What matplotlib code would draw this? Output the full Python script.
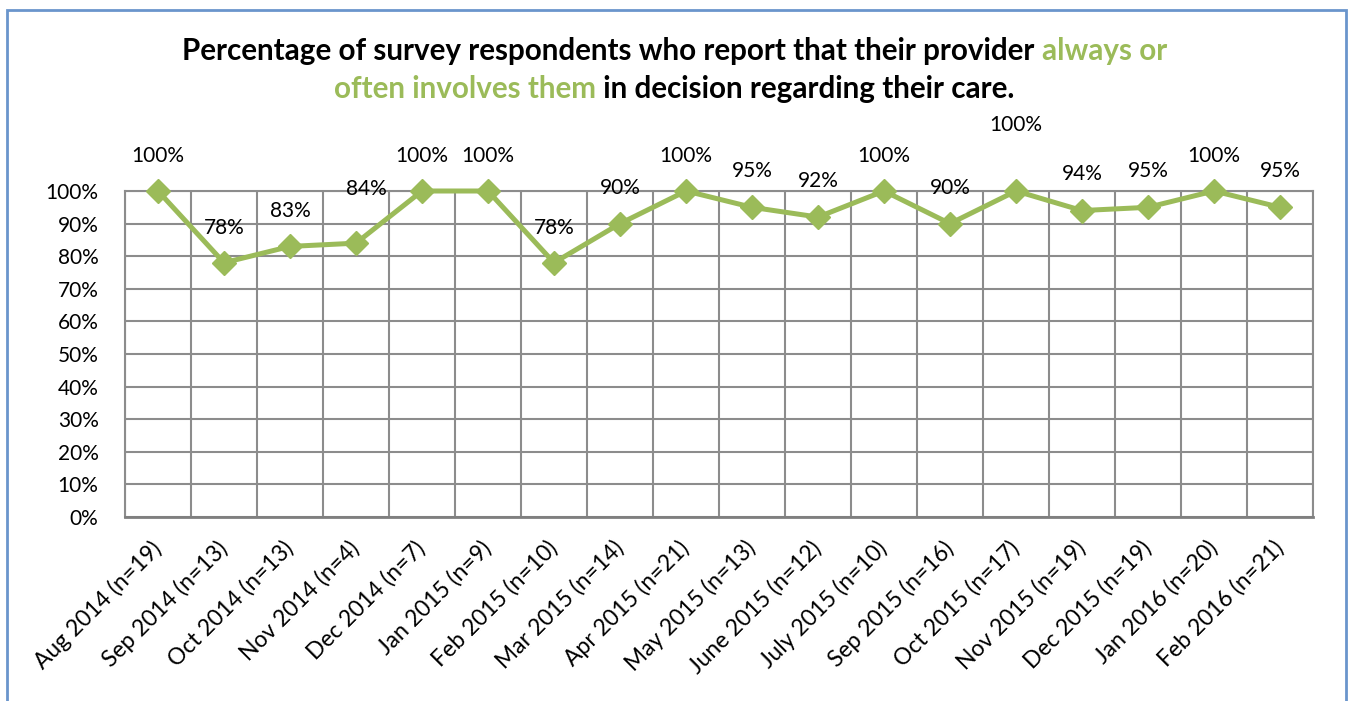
import matplotlib
matplotlib.use("Agg")
import matplotlib.pyplot as plt
from matplotlib.patches import Rectangle
from matplotlib.ticker import FixedLocator, PercentFormatter

plt.rcParams['font.family'] = ['Lato', 'DejaVu Sans']

# survey months with sample sizes
months = ['Aug 2014 (n=19)', 'Sep 2014 (n=13)', 'Oct 2014 (n=13)', 'Nov 2014 (n=4)',
          'Dec 2014 (n=7)', 'Jan 2015 (n=9)', 'Feb 2015 (n=10)', 'Mar 2015 (n=14)',
          'Apr 2015 (n=21)', 'May 2015 (n=13)', 'June 2015 (n=12)', 'July 2015 (n=10)',
          'Sep 2015 (n=16)', 'Oct 2015 (n=17)', 'Nov 2015 (n=19)', 'Dec 2015 (n=19)',
          'Jan 2016 (n=20)', 'Feb 2016 (n=21)']
pct = [100, 78, 83, 84, 100, 100, 78, 90, 100, 95, 92, 100, 90, 100, 94, 95, 100, 95]

# where each value label sits relative to its point (pixels)
label_dx = [0, 0, 0, 10, 0, 0, 0, 0, 0, 0, 0, 0, 0, 0, 0, 0, 0, 0]
label_dy = [35, 35, 35, 54, 35, 35, 35, 36, 35, 36, 36, 35, 36, 66, 37, 36, 35, 36]

GREEN = '#9BBB59'
GRID = '#8C8C8C'

fig = plt.figure(figsize=(13.49, 7.01), dpi=100)
ax = fig.add_axes([125 / 1349, 1 - 517 / 701, (1313 - 125) / 1349, (517 - 191) / 701])

x = list(range(len(months)))
ax.plot(x, pct, color=GREEN, linewidth=3.6, marker='D', markersize=12,
        markerfacecolor=GREEN, markeredgecolor=GREEN, zorder=3, clip_on=False)

for xi, v, dx, dy in zip(x, pct, label_dx, label_dy):
    ax.annotate(f'{v}%', (xi, v), xytext=(dx, dy), textcoords='offset pixels',
                ha='center', va='center', fontsize=15, color='black')

ax.set_xlim(-0.5, len(months) - 0.5)
ax.set_ylim(0, 100)
ax.yaxis.set_major_locator(FixedLocator(range(0, 101, 10)))
ax.yaxis.set_major_formatter(PercentFormatter(decimals=0))
ax.set_xticks(x)
ax.set_xticklabels(months, rotation=45, ha='right', va='center', rotation_mode='anchor')
ax.xaxis.set_minor_locator(FixedLocator([i - 0.5 for i in range(len(months) + 1)]))
ax.tick_params(axis='x', which='major', length=0, pad=20, labelsize=16.5)
ax.tick_params(axis='x', which='minor', length=0)
ax.tick_params(axis='y', length=0, pad=19, labelsize=15)

ax.grid(axis='y', which='major', color=GRID, linewidth=1.5)
ax.grid(axis='x', which='minor', color=GRID, linewidth=1.5)
ax.set_axisbelow(True)
for side, sp in ax.spines.items():
    sp.set_color(GRID)
    sp.set_linewidth(1.5)
ax.spines['bottom'].set_color('#7F7F7F')
ax.spines['bottom'].set_linewidth(2)

# two-line title with the key phrase highlighted
title_lines = [
    [('Percentage of survey respondents who report that their provider ', 'black'),
     ('always or', GREEN)],
    [('often involves them', GREEN), (' in decision regarding their care.', 'black')],
]
title_y = [1 - 51 / 701, 1 - 89 / 701]
renderer = fig.canvas.get_renderer()
for parts, yy in zip(title_lines, title_y):
    texts = [fig.text(0, yy, s, color=c, fontsize=21.3, fontweight='bold',
                      ha='left', va='center') for s, c in parts]
    widths = [t.get_window_extent(renderer).width / fig.bbox.width for t in texts]
    left = 0.5 - sum(widths) / 2
    for t, w in zip(texts, widths):
        t.set_x(left)
        left += w

fig.patches.append(Rectangle((7 / 1349, -0.05), (1346 - 7) / 1349, 1.05 - 10 / 701,
                             transform=fig.transFigure, fill=False,
                             edgecolor='#6A95CC', linewidth=2))

fig.savefig('out.png', dpi=100)
